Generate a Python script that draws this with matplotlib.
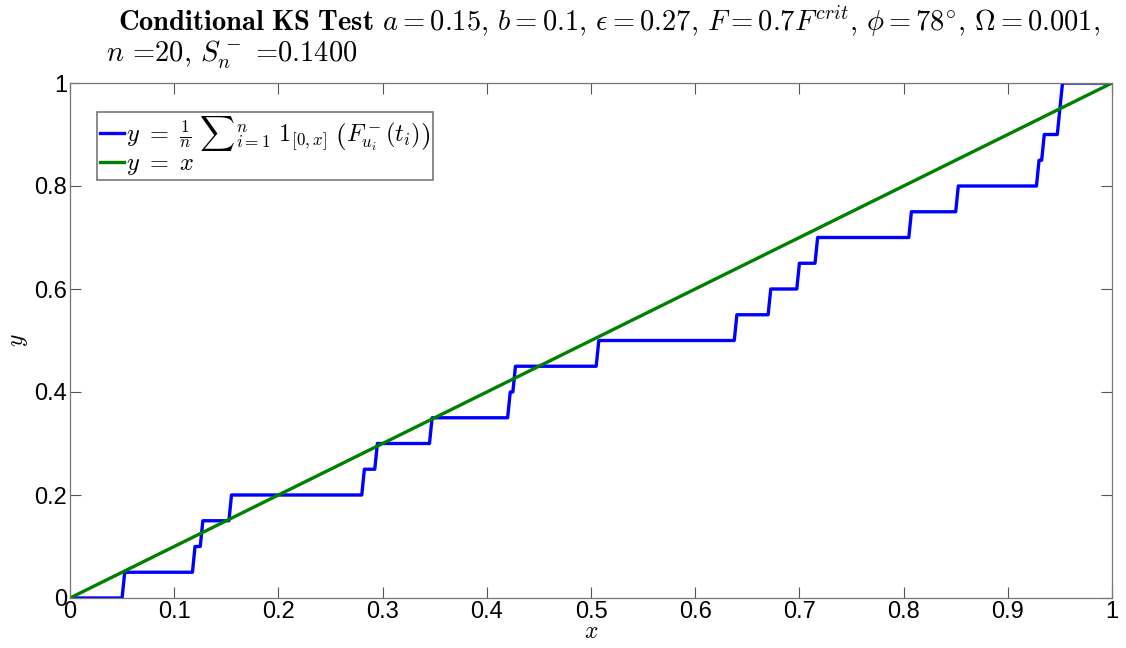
import numpy as np
import matplotlib
matplotlib.use("Agg")
import matplotlib.pyplot as plt

# sample values F^-_{u_i}(t_i)
u_vals = [0.052, 0.119, 0.126, 0.155, 0.281, 0.295, 0.346, 0.422, 0.427, 0.507,
          0.640, 0.672, 0.698, 0.717, 0.806, 0.852, 0.928, 0.933, 0.949, 0.951]
x_ticks = [0, 0.1, 0.2, 0.3, 0.4, 0.5, 0.6, 0.7, 0.8, 0.9, 1]
y_ticks = [0, 0.2, 0.4, 0.6, 0.8, 1]

title_1 = (r"$\mathbf{Conditional\ KS\ Test}$ $a=0.15$, $b=0.1$, $\epsilon=0.27$, "
           r"$F=0.7F^{crit}$, $\phi=78^{\circ}$, $\Omega=0.001$,")
title_2 = r"$n$ =20, $S_n^-$ =0.1400"

plt.rcParams['mathtext.fontset'] = 'cm'
plt.rcParams['font.family'] = ['Liberation Sans', 'DejaVu Sans']

fig = plt.figure(figsize=(11.26, 6.48), dpi=100)
ax = fig.add_axes([70 / 1126, 1 - 598 / 648, 1042 / 1126, 515 / 648])

# empirical cdf on a fine grid (like the original plot)
grid = np.linspace(0, 1, 401)
u = np.array(u_vals)
ecdf = (u[:, None] <= grid[None, :]).mean(axis=0)

ax.plot(grid, ecdf, color=(0, 0, 1), lw=2.4,
        label=r"$y\ =\ \frac{1}{n}\ {\sum}_{i=1}^{n}\ \mathbf{1}_{[0,x]}\ \left(F^-_{u_i}(t_i)\right)$")
ax.plot(grid, grid, color=(0, 0.5, 0), lw=2.4, label=r"$y\ =\ x$")

ax.set_xlim(0, 1)
ax.set_ylim(0, 1)
ax.set_xticks(x_ticks)
ax.set_yticks(y_ticks)
ax.set_xticklabels([("%g" % v) for v in x_ticks])
ax.set_yticklabels([("%g" % v) for v in y_ticks])
ax.tick_params(direction='in', length=8, width=0.8, color='#555555',
               labelsize=17, top=True, right=True, pad=2)
for s in ax.spines.values():
    s.set_color('#777777')
    s.set_linewidth(0.9)

ax.set_xlabel(r"$x$", fontsize=17, labelpad=-1)
ax.set_ylabel(r"$y$", fontsize=17, labelpad=3)

leg = ax.legend(loc='upper left', bbox_to_anchor=(0.026, 0.944), fontsize=17.5,
                handlelength=1.0, handletextpad=0.1, borderpad=0.1,
                labelspacing=0.0, borderaxespad=0, fancybox=False,
                framealpha=1, edgecolor='#777777')
leg.get_frame().set_linewidth(1.2)

fig.text(118 / 1126, 1 - 22 / 648, title_1, fontsize=20.5, va='center', ha='left',
         family='cmr10')
fig.text(106 / 1126, 1 - 55 / 648, title_2, fontsize=20.5, va='center', ha='left',
         family='cmr10')

fig.savefig("out.png", dpi=100)
